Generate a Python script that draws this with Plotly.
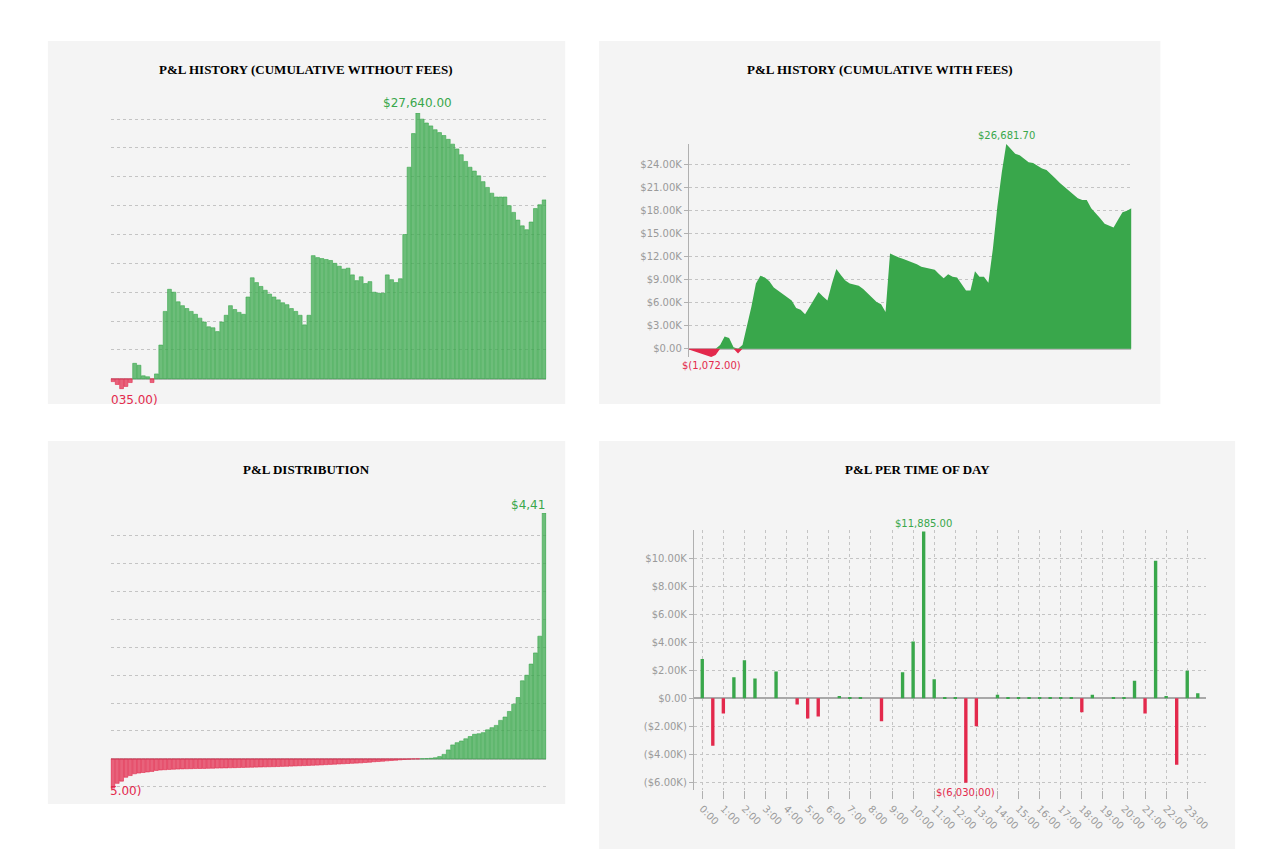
import plotly.graph_objects as go

O = 8  # page body margin
W, H = 1269, 849 - O

# cumulative P&L (K$), without fees
cum_no_fees = [-0.30, -0.60, -1.035, -0.80, -0.40, 1.60, 1.40, 0.30, 0.20, -0.40,
               0.50, 3.5, 7.0, 9.3, 9.0, 8.0, 7.6, 7.3, 7.0, 6.7,
               6.3, 5.9, 5.4, 5.3, 4.9, 5.9, 6.6, 7.6, 7.2, 6.9,
               6.7, 8.5, 10.5, 10.0, 9.6, 9.2, 8.8, 8.5, 8.2, 7.9,
               7.7, 7.3, 7.0, 6.6, 5.6, 6.6, 12.8, 12.6, 12.5, 12.4,
               12.3, 12.0, 11.7, 11.4, 11.5, 10.8, 10.2, 10.6, 9.9, 10.1,
               9.0, 8.9, 8.9, 10.8, 10.3, 10.0, 10.4, 15.0, 22.0, 25.5,
               27.64, 27.0, 26.6, 26.3, 25.9, 25.6, 25.3, 24.9, 24.4, 23.9,
               23.3, 22.6, 22.0, 21.6, 21.1, 20.5, 19.9, 19.3, 18.9, 18.9,
               18.9, 18.0, 17.3, 16.5, 15.9, 15.5, 16.3, 17.7, 18.1, 18.6]

# cumulative P&L (K$), with fees
cum_fees = [-0.1, -0.3, -0.5, -0.7, -0.9, -1.072, -0.8, 0.5, 1.6, 1.4,
            0.2, -0.6, 0.5, 3.0, 5.5, 8.5, 9.5, 9.3, 8.8, 8.0,
            7.6, 7.2, 6.7, 6.3, 5.3, 5.1, 4.5, 5.5, 6.4, 7.4,
            6.8, 6.3, 8.5, 10.4, 9.6, 8.9, 8.5, 8.3, 8.2, 7.8,
            7.2, 6.6, 6.1, 5.8, 4.8, 12.4, 12.1, 11.9, 11.7, 11.5,
            11.3, 11.0, 10.7, 10.6, 10.5, 10.3, 9.7, 9.2, 9.7, 9.4,
            9.3, 8.5, 7.6, 7.6, 10.1, 9.4, 9.4, 8.6, 13.0, 18.5,
            23.0, 26.6817, 26.0, 25.4, 25.2, 24.8, 24.3, 24.2, 23.8, 23.5,
            23.3, 22.8, 22.2, 21.6, 21.1, 20.7, 20.1, 19.6, 19.4, 19.4,
            18.3, 17.7, 17.0, 16.3, 16.0, 15.8, 16.8, 17.8, 18.0, 18.3]

# sorted per-trade P&L ($)
dist = [-525, -440, -400, -330, -300, -268, -255, -245, -235, -225,
        -208, -200, -195, -190, -186, -183, -180, -178, -176, -174,
        -173, -172, -170, -168, -166, -164, -162, -160, -158, -156,
        -154, -152, -150, -148, -146, -144, -142, -140, -138, -135,
        -133, -130, -127, -124, -121, -118, -115, -112, -108, -104,
        -100, -96, -92, -88, -84, -80, -76, -72, -66, -60,
        -52, -48, -42, -36, -30, -24, -18, -12, -8, -4,
        -2, 2, 5, 10, 20, 40, 80, 160, 250, 290,
        320, 360, 400, 440, 450, 470, 520, 560, 600, 690,
        750, 850, 980, 1100, 1400, 1500, 1700, 1900, 2200, 4410]

hours = [h / 2 for h in range(48)]
tod_pnl = [2.8, -3.4, -1.1, 1.5, 2.7, 1.4, 0, 1.9, 0, -0.45,
           -1.45, -1.3, 0, 0.15, 0.02, 0.02, 0, -1.65, 0, 1.85,
           4.05, 11.885, 1.35, 0.02, 0.02, -6.03, -2.0, 0, 0.25, 0.02,
           0.02, 0.02, 0.02, 0.02, 0.02, 0.02, -1.0, 0.25, 0, 0.02,
           0.02, 1.25, -1.1, 9.8, 0.15, -4.75, 1.95, 0.35]
hour_labels = [f"{h}:00" for h in range(24)]

GREEN = "#39a74b"
RED = "#e3294c"
TICK = dict(family="DejaVu Sans", size=10, color="#9a9a9a")


def fx(a):
    return (a - O) / W


def fy(b):
    return 1 - (b - O) / H


def px_x(a, b):
    return [fx(a), fx(b)]


def px_y(top, bottom):
    return [fy(bottom), fy(top)]


fig = go.Figure()

# panel backgrounds
shapes = []
for x0, y0, x1, y1 in [(48, 41, 567, 404), (601, 41, 1164, 404),
                       (48, 441, 567, 804), (601, 441, 1239, 849)]:
    shapes.append(dict(type="rect", xref="paper", yref="paper", x0=fx(x0), x1=fx(x1),
                       y0=fy(y1), y1=fy(y0), fillcolor="#f4f4f4", line_width=0, layer="below"))

idx = list(range(100))

# top-left bars
fig.add_trace(go.Bar(x=idx, y=[v * 1000 for v in cum_no_fees],
                     marker=dict(color=["rgba(57,167,75,0.72)" if v >= 0 else "rgba(227,41,76,0.72)" for v in cum_no_fees],
                                 line=dict(color=[GREEN if v >= 0 else RED for v in cum_no_fees], width=0.6)),
                     xaxis="x", yaxis="y", showlegend=False))

# top-right area
fig.add_trace(go.Scatter(x=idx, y=[max(v, 0) * 1000 for v in cum_fees], mode="lines", line=dict(width=0, color=GREEN),
                         fill="tozeroy", fillcolor=GREEN, xaxis="x2", yaxis="y2", showlegend=False))
fig.add_trace(go.Scatter(x=idx, y=[min(v, 0) * 1000 for v in cum_fees], mode="lines", line=dict(width=0, color=RED),
                         fill="tozeroy", fillcolor=RED, xaxis="x2", yaxis="y2", showlegend=False))

# bottom-left distribution
fig.add_trace(go.Bar(x=idx, y=dist,
                     marker=dict(color=["rgba(57,167,75,0.72)" if v >= 0 else "rgba(227,41,76,0.72)" for v in dist],
                                 line=dict(color=[GREEN if v >= 0 else RED for v in dist], width=0.6)),
                     xaxis="x3", yaxis="y3", showlegend=False))

# bottom-right time of day
fig.add_trace(go.Bar(x=hours, y=[v * 1000 for v in tod_pnl], width=0.16,
                     marker=dict(color=[GREEN if v >= 0 else RED for v in tod_pnl], line_width=0),
                     xaxis="x4", yaxis="y4", showlegend=False))

grid = dict(showgrid=True, gridcolor="#c4c4c4", griddash="dot", gridwidth=1)
noax = dict(showticklabels=False, showgrid=False, zeroline=False, ticks="")

fig.update_layout(
    width=W, height=H, margin=dict(l=0, r=0, t=0, b=0),
    paper_bgcolor="white", plot_bgcolor="rgba(0,0,0,0)", bargap=0.12,
    shapes=shapes,
    xaxis=dict(domain=px_x(111, 548), range=[-0.5, 99.5], **noax),
    yaxis=dict(domain=px_y(113, 404), range=[-2630, 27640], tickvals=[3000 * k for k in range(1, 10)],
               showticklabels=False, zeroline=True, zerolinecolor="#bbbbbb", zerolinewidth=2, **grid),
    xaxis2=dict(domain=px_x(691, 1135), range=[0, 99], anchor="y2", **noax),
    yaxis2=dict(domain=px_y(144, 357), range=[-1072, 26682], anchor="x2",
                tickvals=[3000 * k for k in range(9)],
                ticktext=["$0.00"] + [f"${3 * k}.00K" for k in range(1, 9)],
                tickfont=TICK, showline=True, linecolor="#b0b0b0", ticks="outside", ticklen=4,
                tickcolor="#b0b0b0", zeroline=True, zerolinecolor="#bbbbbb", **grid),
    xaxis3=dict(domain=px_x(111, 548), range=[-0.5, 99.5], anchor="y3", **noax),
    yaxis3=dict(domain=px_y(513, 804), range=[-810, 4410], anchor="x3", tickvals=[500 * k for k in range(-1, 9)],
                showticklabels=False, zeroline=True, zerolinecolor="#bbbbbb", zerolinewidth=2, **grid),
    xaxis4=dict(domain=px_x(696, 1210), range=[-0.4, 23.9], anchor="y4", tickvals=list(range(24)),
                ticktext=hour_labels, tickangle=45, tickfont=TICK, ticks="outside", ticklen=8,
                tickcolor="#b0b0b0", zeroline=False, **grid),
    yaxis4=dict(domain=px_y(530, 790), range=[-6550, 12000], anchor="x4",
                tickvals=[2000 * k for k in range(-3, 6)],
                ticktext=["($6.00K)", "($4.00K)", "($2.00K)", "$0.00", "$2.00K", "$4.00K", "$6.00K", "$8.00K", "$10.00K"],
                tickfont=TICK, showline=True, linecolor="#b0b0b0", ticks="outside", ticklen=4,
                tickcolor="#b0b0b0", zeroline=True, zerolinecolor="#a8a8a8", zerolinewidth=1.5, **grid),
)

title_font = dict(family="Liberation Serif", size=13, color="black")
anns = []
for text, x, y in [("<b>P&L HISTORY (CUMULATIVE WITHOUT FEES)</b>", 307, 70),
                   ("<b>P&L HISTORY (CUMULATIVE WITH FEES)</b>", 883, 70),
                   ("<b>P&L DISTRIBUTION</b>", 307, 469),
                   ("<b>P&L PER TIME OF DAY</b>", 920, 469)]:
    anns.append(dict(text=text, x=fx(x), y=fy(y), xref="paper", yref="paper", showarrow=False,
                     font=title_font, xanchor="center", yanchor="middle"))

lab = lambda c, s=11: dict(family="DejaVu Sans", size=s, color=c)
anns += [
    dict(text="$27,640.00", x=70, y=27640, xref="x", yref="y", showarrow=False, yanchor="bottom",
         yshift=1, font=lab(GREEN, 12)),
    dict(text="035.00)", x=fx(109), y=fy(400), xref="paper", yref="paper", showarrow=False,
         xanchor="left", font=lab(RED, 12)),
    dict(text="$26,681.70", x=71, y=26682, xref="x2", yref="y2", showarrow=False, yanchor="bottom",
         yshift=1, font=lab(GREEN, 10)),
    dict(text="$(1,072.00)", x=5, y=-1072, xref="x2", yref="y2", showarrow=False, yanchor="top",
         yshift=-1, font=lab(RED, 10)),
    dict(text="$4,41", x=fx(549), y=fy(505), xref="paper", yref="paper", showarrow=False,
         xanchor="right", font=lab(GREEN, 12)),
    dict(text="5.00)", x=fx(108), y=fy(800), xref="paper", yref="paper", showarrow=False,
         xanchor="left", font=lab(RED, 12)),
    dict(text="$11,885.00", x=10.5, y=11885, xref="x4", yref="y4", showarrow=False, yanchor="bottom",
         yshift=1, font=lab(GREEN, 10)),
    dict(text="$(6,030.00)", x=12.5, y=-6030, xref="x4", yref="y4", showarrow=False, yanchor="top",
         yshift=-2, font=lab(RED, 10)),
]
fig.update_layout(annotations=anns)

fig.write_html("out.html")
